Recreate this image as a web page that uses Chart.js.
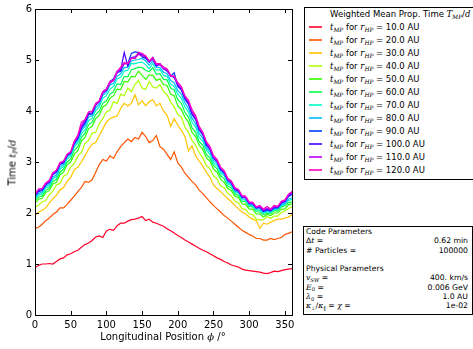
<!DOCTYPE html>
<html>
<head>
<meta charset="utf-8">
<script src="https://cdn.jsdelivr.net/npm/chart.js@4.4.1/dist/chart.umd.min.js"></script>
<style>
  body { margin: 0; background: #fff; color: #000; font-family: "DejaVu Sans", sans-serif; }
  #wrap { position: relative; width: 473px; height: 349px; overflow: hidden; }
  #plot { position: absolute; left: 0; top: 0; width: 300px; height: 349px; }
  .m { font-family: "DejaVu Serif", serif; font-style: italic; }
  .s { font-size: 68%; position: relative; top: 0.3em; }
  .ax { position: absolute; font-size: 10px; white-space: nowrap; text-align: center; line-height: 12px; }
  #legend { position: absolute; left: 304px; top: 7px; width: 185px; border: 1px solid #000; background: #fff; font-size: 8.5px; padding-bottom: 2px; }
  #legend .title { height: 13px; line-height: 13px; padding-left: 25px; }
  #legend .row { height: 13px; line-height: 13px; position: relative; padding-left: 25px; }
  #legend .ln { position: absolute; left: 4px; top: 5px; width: 13px; height: 2px; opacity: 0.8; }
  #params { position: absolute; left: 303px; top: 226px; width: 166px; height: 87px; border: 1px solid #000; font-size: 7.7px; padding: 0 0 0 2px; }
  #params .r { height: 9.3px; line-height: 9.3px; display: flex; justify-content: space-between; padding-right: 4px; }
</style>
</head>
<body>
<div id="wrap">
  <div id="plot"><canvas id="c"></canvas></div>
  <div class="ax" id="xt" style="left:63px; top:331px; width:200px;">Longitudinal Position <span class="m">ϕ</span> /°</div>
  <div class="ax" id="yt" style="left:-87px; top:156px; width:200px; transform:rotate(-90deg);">Time <span class="m">t</span><span class="m s">P</span>/<span class="m">d</span></div>
  <div id="legend"><div class="title">Weighted Mean Prop. Time <span class="m">T</span><span class="m s">MP</span>/<span class="m">d</span></div></div>
  <div id="params">
    <div class="r"><span>Code Parameters</span><span></span></div>
    <div class="r"><span>Δ<span class="m">t</span> =</span><span>0.62 min</span></div>
    <div class="r"><span># Particles =</span><span>100000</span></div>
    <div class="r"><span></span><span></span></div>
    <div class="r"><span>Physical Parameters</span><span></span></div>
    <div class="r"><span><span class="m">v</span><span class="m s">SW</span> =</span><span>400. km/s</span></div>
    <div class="r"><span><span class="m">E</span><span class="s">0</span> =</span><span>0.006 GeV</span></div>
    <div class="r"><span><span class="m">λ</span><span class="s">0</span> =</span><span>1.0 AU</span></div>
    <div class="r"><span><span class="m">κ</span><span class="s">⊥</span>/<span class="m">κ</span><span class="s">∥</span> = <span class="m">χ</span> =</span><span>1e-02</span></div>
  </div>
</div>
<script>
// longitudinal position (deg)
const phi = [
  0, 5, 10, 15, 20, 25, 30, 35, 40, 45,
  50, 55, 60, 65, 70, 75, 80, 85, 90, 95,
  100, 105, 110, 115, 120, 125, 130, 135, 140, 145,
  150, 155, 160, 165, 170, 175, 180, 185, 190, 195,
  200, 205, 210, 215, 220, 225, 230, 235, 240, 245,
  250, 255, 260, 265, 270, 275, 280, 285, 290, 295,
  300, 305, 310, 315, 320, 325, 330, 335, 340, 345,
  350, 355, 360
];
const xTicks = [0, 50, 100, 150, 200, 250, 300, 350];

// mean propagation time (days) for each heliocentric radius
const t10 = [
  0.93, 0.97, 1.00, 1.00, 1.01, 1.00, 1.05, 1.10, 1.12, 1.18,
  1.20, 1.24, 1.27, 1.33, 1.38, 1.41, 1.46, 1.53, 1.55, 1.52,
  1.65, 1.68, 1.66, 1.75, 1.80, 1.80, 1.84, 1.87, 1.88, 1.90,
  1.93, 1.85, 1.88, 1.82, 1.80, 1.77, 1.74, 1.69, 1.65, 1.61,
  1.56, 1.52, 1.47, 1.43, 1.39, 1.35, 1.31, 1.27, 1.24, 1.20,
  1.16, 1.12, 1.09, 1.05, 1.02, 0.98, 0.96, 0.94, 0.90, 0.88,
  0.87, 0.86, 0.85, 0.84, 0.82, 0.81, 0.83, 0.86, 0.85, 0.87,
  0.89, 0.90, 0.91
];
const t20 = [
  1.70, 1.72, 1.78, 1.85, 1.90, 1.97, 2.02, 2.10, 2.10, 2.17,
  2.25, 2.33, 2.42, 2.50, 2.62, 2.60, 2.65, 2.80, 2.95, 3.05,
  3.02, 3.12, 3.07, 3.20, 3.30, 3.38, 3.45, 3.40, 3.48, 3.45,
  3.58, 3.50, 3.38, 3.42, 3.52, 3.30, 3.25, 3.15, 3.05, 3.20,
  2.98, 2.90, 2.78, 2.70, 2.62, 2.55, 2.45, 2.38, 2.30, 2.22,
  2.15, 2.08, 2.02, 1.95, 1.90, 1.84, 1.78, 1.72, 1.66, 1.62,
  1.58, 1.55, 1.50, 1.50, 1.47, 1.47, 1.50, 1.48, 1.50, 1.52,
  1.58, 1.60, 1.63
];
const t30 = [
  1.95, 2.02, 2.05, 2.10, 2.20, 2.28, 2.35, 2.45, 2.50, 2.62,
  2.70, 2.85, 2.90, 3.00, 3.12, 3.25, 3.35, 3.38, 3.52, 3.65,
  3.78, 3.85, 3.88, 3.90, 4.05, 4.15, 4.10, 4.15, 4.32, 4.12,
  4.20, 4.10, 4.18, 4.22, 4.10, 4.15, 4.00, 3.92, 3.70, 3.85,
  3.72, 3.62, 3.50, 3.22, 3.32, 3.12, 3.02, 2.92, 2.80, 2.70,
  2.55, 2.48, 2.42, 2.35, 2.28, 2.22, 2.15, 2.08, 2.02, 1.98,
  1.92, 1.88, 1.85, 1.70, 1.80, 1.78, 1.82, 1.85, 1.88, 1.88,
  1.90, 1.92, 1.97
];
const t40 = [
  2.12, 2.15, 2.22, 2.24, 2.36, 2.43, 2.55, 2.58, 2.72, 2.76,
  2.90, 2.97, 3.12, 3.18, 3.37, 3.42, 3.57, 3.58, 3.75, 3.85,
  3.98, 4.02, 4.18, 4.15, 4.33, 4.30, 4.45, 4.38, 4.52, 4.60,
  4.45, 4.42, 4.58, 4.47, 4.45, 4.52, 4.38, 4.32, 4.18, 4.08,
  3.93, 3.88, 3.68, 3.58, 3.42, 3.33, 3.18, 3.08, 2.93, 2.87,
  2.73, 2.67, 2.53, 2.50, 2.38, 2.34, 2.23, 2.20, 2.08, 2.07,
  1.98, 1.97, 1.88, 1.86, 1.87, 1.93, 1.89, 1.94, 1.94, 2.01,
  2.04, 2.09, 2.12
];
const t50 = [
  2.20, 2.27, 2.29, 2.40, 2.44, 2.57, 2.60, 2.75, 2.80, 2.95,
  3.00, 3.15, 3.22, 3.41, 3.48, 3.65, 3.70, 3.85, 3.92, 4.08,
  4.12, 4.25, 4.30, 4.43, 4.42, 4.58, 4.57, 4.68, 4.67, 4.78,
  4.70, 4.62, 4.71, 4.70, 4.60, 4.63, 4.52, 4.50, 4.33, 4.30,
  4.10, 4.03, 3.88, 3.78, 3.58, 3.50, 3.33, 3.25, 3.08, 3.02,
  2.86, 2.80, 2.66, 2.60, 2.48, 2.44, 2.33, 2.30, 2.18, 2.17,
  2.08, 2.07, 1.98, 1.98, 1.92, 1.97, 1.95, 2.00, 2.00, 2.07,
  2.08, 2.16, 2.18
];
const t60 = [
  2.25, 2.31, 2.34, 2.44, 2.49, 2.62, 2.66, 2.80, 2.86, 3.00,
  3.06, 3.23, 3.30, 3.48, 3.56, 3.73, 3.78, 3.93, 4.00, 4.15,
  4.20, 4.33, 4.38, 4.53, 4.52, 4.68, 4.67, 4.81, 4.83, 4.86,
  4.85, 4.80, 4.77, 4.85, 4.72, 4.73, 4.62, 4.61, 4.45, 4.41,
  4.22, 4.15, 3.97, 3.88, 3.67, 3.58, 3.40, 3.33, 3.15, 3.08,
  2.93, 2.87, 2.73, 2.67, 2.53, 2.49, 2.38, 2.34, 2.23, 2.22,
  2.13, 2.12, 2.03, 2.02, 1.97, 1.99, 1.99, 2.04, 2.04, 2.12,
  2.14, 2.20, 2.22
];
const t70 = [
  2.28, 2.35, 2.38, 2.49, 2.53, 2.67, 2.71, 2.86, 2.91, 3.06,
  3.11, 3.29, 3.38, 3.55, 3.63, 3.81, 3.86, 4.01, 4.08, 4.25,
  4.30, 4.43, 4.48, 4.63, 4.66, 4.78, 4.80, 4.93, 4.93, 4.95,
  4.96, 4.91, 4.83, 4.93, 4.80, 4.81, 4.70, 4.68, 4.53, 4.48,
  4.33, 4.25, 4.08, 3.98, 3.78, 3.68, 3.48, 3.41, 3.23, 3.15,
  2.98, 2.93, 2.78, 2.73, 2.58, 2.53, 2.41, 2.39, 2.26, 2.25,
  2.15, 2.14, 2.06, 2.05, 2.00, 2.02, 2.01, 2.07, 2.07, 2.14,
  2.17, 2.24, 2.27
];
const t80 = [
  2.30, 2.38, 2.41, 2.52, 2.56, 2.70, 2.75, 2.90, 2.95, 3.10,
  3.15, 3.33, 3.43, 3.61, 3.70, 3.88, 3.91, 4.06, 4.13, 4.31,
  4.36, 4.51, 4.54, 4.68, 4.73, 4.85, 4.86, 4.98, 5.00, 5.01,
  5.03, 4.98, 4.90, 4.98, 4.86, 4.85, 4.76, 4.73, 4.60, 4.55,
  4.40, 4.33, 4.16, 4.05, 3.86, 3.75, 3.56, 3.47, 3.28, 3.20,
  3.03, 2.97, 2.82, 2.76, 2.61, 2.56, 2.43, 2.41, 2.28, 2.27,
  2.17, 2.16, 2.08, 2.08, 2.02, 2.04, 2.03, 2.08, 2.09, 2.16,
  2.19, 2.27, 2.30
];
const t90 = [
  2.33, 2.42, 2.44, 2.55, 2.60, 2.75, 2.80, 2.95, 2.98, 3.13,
  3.18, 3.36, 3.46, 3.65, 3.76, 3.93, 3.94, 4.11, 4.18, 4.35,
  4.40, 4.55, 4.60, 4.75, 4.78, 4.93, 4.93, 5.13, 5.16, 5.15,
  5.06, 5.03, 4.96, 5.05, 4.90, 4.91, 4.83, 4.81, 4.68, 4.75,
  4.48, 4.41, 4.23, 4.13, 3.93, 3.83, 3.63, 3.53, 3.33, 3.25,
  3.08, 3.01, 2.85, 2.79, 2.64, 2.59, 2.46, 2.43, 2.31, 2.30,
  2.19, 2.18, 2.10, 2.12, 2.03, 2.06, 2.04, 2.10, 2.10, 2.19,
  2.22, 2.32, 2.36
];
const t100 = [
  2.35, 2.44, 2.46, 2.56, 2.61, 2.76, 2.81, 2.96, 3.00, 3.13,
  3.18, 3.38, 3.48, 3.69, 3.78, 3.95, 3.96, 4.13, 4.20, 4.38,
  4.43, 4.58, 4.63, 4.78, 4.80, 5.15, 4.88, 5.05, 5.06, 5.13,
  5.10, 5.05, 4.96, 5.03, 4.88, 4.93, 4.83, 4.78, 4.70, 4.65,
  4.50, 4.43, 4.26, 4.15, 3.95, 3.85, 3.64, 3.55, 3.35, 3.26,
  3.08, 3.01, 2.86, 2.80, 2.65, 2.60, 2.46, 2.43, 2.31, 2.30,
  2.19, 2.19, 2.10, 2.11, 2.04, 2.08, 2.05, 2.12, 2.11, 2.20,
  2.23, 2.34, 2.38
];
const t110 = [
  2.36, 2.46, 2.48, 2.58, 2.62, 2.78, 2.83, 2.98, 3.01, 3.15,
  3.20, 3.39, 3.50, 3.71, 3.83, 3.98, 3.98, 4.13, 4.18, 4.36,
  4.41, 4.55, 4.60, 4.75, 4.83, 4.93, 4.93, 5.03, 5.03, 5.11,
  5.08, 5.08, 4.98, 5.01, 4.91, 4.91, 4.83, 4.81, 4.68, 4.68,
  4.53, 4.45, 4.28, 4.18, 3.98, 3.88, 3.66, 3.57, 3.38, 3.28,
  3.10, 3.03, 2.88, 2.81, 2.66, 2.61, 2.48, 2.45, 2.33, 2.31,
  2.20, 2.20, 2.11, 2.13, 2.06, 2.10, 2.06, 2.13, 2.12, 2.22,
  2.24, 2.35, 2.40
];
const t120 = [
  2.38, 2.47, 2.48, 2.59, 2.64, 2.79, 2.84, 2.99, 3.02, 3.15,
  3.20, 3.41, 3.53, 3.78, 3.83, 3.98, 4.00, 4.15, 4.20, 4.38,
  4.43, 4.58, 4.60, 4.78, 4.86, 4.95, 4.93, 5.03, 5.03, 5.15,
  5.13, 5.08, 4.98, 5.05, 4.93, 4.93, 4.86, 4.83, 4.70, 4.68,
  4.56, 4.48, 4.30, 4.21, 4.03, 3.91, 3.70, 3.59, 3.40, 3.31,
  3.13, 3.05, 2.90, 2.83, 2.68, 2.63, 2.50, 2.46, 2.34, 2.33,
  2.22, 2.21, 2.12, 2.15, 2.08, 2.13, 2.08, 2.15, 2.13, 2.23,
  2.26, 2.37, 2.42
];

const radii = ["10.0", "20.0", "30.0", "40.0", "50.0", "60.0", "70.0", "80.0", "90.0", "100.0", "110.0", "120.0"];
const series = [t10, t20, t30, t40, t50, t60, t70, t80, t90, t100, t110, t120];
const colors = ["#ff0029", "#ff5400", "#ffc400", "#b0ff00", "#32ff00", "#00ff4b",
                "#00ffc6", "#00baff", "#003bff", "#4200ff", "#c100ff", "#ff00bf"];

// legend rows
const legend = document.getElementById("legend");
radii.forEach((r, i) => {
  const row = document.createElement("div");
  row.className = "row";
  row.innerHTML = `<span class="ln" style="background:${colors[i]}"></span>` +
    `<span class="m">t</span><span class="m s">MP</span> for <span class="m">r</span><span class="m s">HP</span> = ${r} AU`;
  legend.appendChild(row);
});

// inward ticks on all four sides plus the box
const frame = {
  id: "frame",
  afterDatasetsDraw(chart) {
    const { ctx, chartArea: a, scales: { x, y } } = chart;
    ctx.save();
    ctx.strokeStyle = "#000";
    ctx.lineWidth = 1;
    ctx.beginPath();
    x.ticks.forEach(t => {
      const p = Math.round(x.getPixelForValue(t.value)) + 0.5;
      ctx.moveTo(p, a.bottom); ctx.lineTo(p, a.bottom - 4);
      ctx.moveTo(p, a.top); ctx.lineTo(p, a.top + 4);
    });
    y.ticks.forEach(t => {
      const p = Math.round(y.getPixelForValue(t.value)) + 0.5;
      ctx.moveTo(a.left, p); ctx.lineTo(a.left + 4, p);
      ctx.moveTo(a.right, p); ctx.lineTo(a.right - 4, p);
    });
    ctx.stroke();
    ctx.strokeRect(Math.round(a.left) + 0.5, Math.round(a.top) + 0.5,
      Math.round(a.right - a.left), Math.round(a.bottom - a.top));
    ctx.restore();
  }
};

new Chart(document.getElementById("c"), {
  type: "line",
  data: {
    datasets: series.map((s, i) => ({
      label: radii[i] + " AU",
      data: phi.map((p, j) => ({ x: p, y: s[j] })),
      borderColor: colors[i],
      borderWidth: 1.2,
      pointRadius: 0,
      tension: 0,
      order: series.length - 1 - i
    }))
  },
  options: {
    animation: false,
    responsive: true,
    maintainAspectRatio: false,
    devicePixelRatio: 1,
    layout: { padding: { top: 8, right: 8, left: 0, bottom: 0 } },
    plugins: { legend: { display: false }, tooltip: { enabled: false } },
    scales: {
      x: {
        type: "linear", min: 0, max: 360,
        grid: { display: false, drawTicks: false },
        border: { display: false },
        ticks: { padding: 4, color: "#000", font: { family: "DejaVu Sans", size: 10 } },
        afterBuildTicks: s => { s.ticks = xTicks.map(v => ({ value: v })); },
        afterFit: s => { s.height = 34; }
      },
      y: {
        min: 0, max: 6,
        grid: { display: false, drawTicks: false },
        border: { display: false },
        ticks: { stepSize: 1, padding: 3, color: "#000", font: { family: "DejaVu Sans", size: 10 } },
        afterFit: s => { s.width = 35; }
      }
    }
  },
  plugins: [frame]
});
</script>
</body>
</html>
